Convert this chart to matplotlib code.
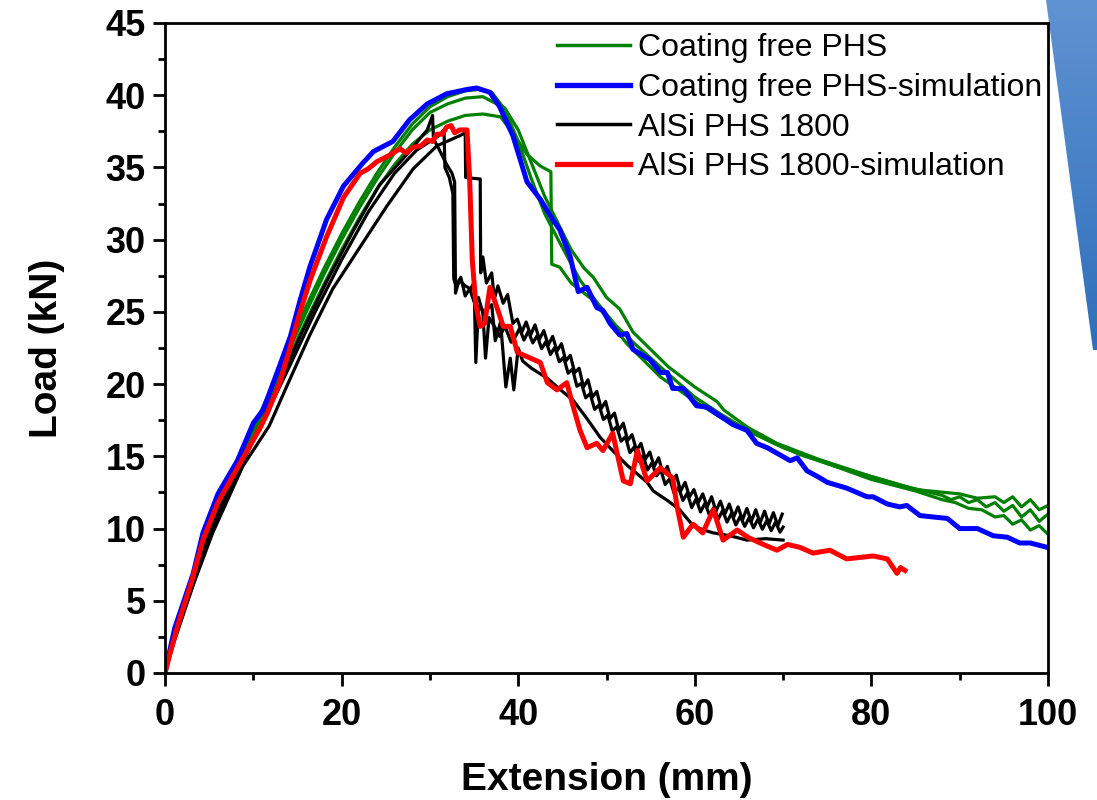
import matplotlib
matplotlib.use("Agg")
import matplotlib.pyplot as plt
import numpy as np
from matplotlib.patches import Polygon
from matplotlib.lines import Line2D
from matplotlib.ticker import MultipleLocator
from matplotlib.colors import LinearSegmentedColormap

plt.rcParams['font.family'] = ['Liberation Sans', 'DejaVu Sans']

# ---------------- data ----------------
# Coating free PHS - simulation (blue)
blue_x = [0, 0.2, 1.1, 3.2, 4.3, 6.0, 8.2, 10.0, 11.1, 12.7, 14.2, 15.3, 16.4, 18.3, 20.2, 22.4,
          23.6, 25.8, 27.7, 29.7, 31.9, 34.2, 35.3, 36.8, 37.9, 39.4, 41.0, 42.5, 43.9, 44.7, 45.9,
          46.8, 47.8, 48.9, 49.6, 50.4, 51.5, 52.3, 53.0, 54.9, 56.1, 56.9, 57.5, 58.7, 60.2, 61.4,
          64.3, 65.9, 67.0, 68.2, 70.8, 71.6, 72.7, 74.2, 75.0, 77.2, 79.5, 80.2, 81.8, 83.2, 84.0,
          85.5, 87.0, 88.6, 90.0, 92.0, 93.8, 95.4, 96.8, 98.0, 99.9]
blue_y = [0, 0.6, 3.1, 6.9, 9.7, 12.4, 14.7, 17.3, 18.2, 20.8, 23.3, 25.8, 28.1, 31.4, 33.7, 35.3,
          36.1, 36.8, 38.3, 39.4, 40.1, 40.4, 40.5, 40.2, 39.2, 37.2, 34.0, 32.8, 31.4, 30.7, 28.8,
          26.4, 26.7, 25.3, 25.1, 24.2, 23.4, 23.5, 22.4, 21.7, 20.8, 20.8, 19.7, 19.7, 18.5, 18.4,
          17.2, 16.8, 15.9, 15.6, 14.7, 14.9, 14.0, 13.5, 13.2, 12.8, 12.2, 12.2, 11.7, 11.5, 11.6,
          10.9, 10.8, 10.7, 10.0, 10.0, 9.5, 9.4, 9.0, 9.0, 8.7]

# Coating free PHS - three tests (green)
greenA_x = [0, 1, 3, 5, 8, 10, 12, 14, 16, 18, 20, 22, 24, 26, 28, 30, 32, 34, 35.5, 37, 38.5, 40,
            41.5, 43, 44.7, 47, 49, 51, 53, 55, 57, 60, 63, 66, 69, 72, 76, 80, 84, 88, 89, 90, 91,
            92, 93, 94, 95, 96, 97, 98, 99, 100]
greenA_y = [0, 2.8, 6.6, 9.9, 14.3, 17.0, 19.6, 22.6, 25.4, 28.0, 30.4, 32.6, 34.6, 36.4, 38.0, 39.2,
            39.9, 40.3, 40.4, 40.2, 39.0, 36.8, 34.2, 31.8, 29.8, 27.2, 25.6, 24.1, 22.9, 21.8, 20.7,
            19.1, 17.9, 16.8, 15.9, 15.1, 14.3, 13.6, 12.9, 12.3, 12.0, 12.2, 11.8, 12.0, 11.5, 11.8,
            11.2, 11.6, 10.8, 11.3, 10.5, 11.0]
greenB_x = [0, 1, 3, 5, 8, 10, 12, 14, 16, 18, 20, 22, 24, 26, 28, 30, 32, 34, 36, 38.5, 40, 41.5,
            43, 44.7, 46, 47.5, 48.5, 50, 51.5, 53, 55, 57, 60, 62.5, 63.3, 66, 69.3, 74, 80, 85, 90,
            92, 94, 95, 96, 97, 98, 99, 100]
greenB_y = [0, 2.6, 6.3, 9.6, 14.0, 16.8, 19.4, 22.3, 25.0, 27.6, 30.0, 32.2, 34.2, 36.0, 37.6, 38.8,
            39.4, 39.8, 39.9, 39.1, 37.6, 35.3, 33.0, 30.9, 29.3, 28.0, 27.4, 26.0, 25.2, 23.6, 22.4,
            21.2, 19.8, 18.8, 18.2, 17.0, 15.9, 14.8, 13.6, 12.7, 12.4, 12.1, 12.2, 11.8, 12.2, 11.5,
            12.0, 11.3, 11.6]
greenC_x = [0, 1, 3, 5, 8, 10, 12, 14, 16, 18, 20, 22, 24, 26, 28, 30, 32, 34, 36, 38, 39.5, 41,
            42.5, 43.7, 43.8, 44.7, 46, 48.5, 52.3, 56.1, 59.8, 62.9, 65.9, 70, 75, 80, 85, 88, 89.5,
            91, 92.5, 94, 95, 96, 97, 98, 99, 100]
greenC_y = [0, 2.5, 6.1, 9.3, 13.6, 16.4, 19.0, 21.8, 24.4, 26.9, 29.3, 31.5, 33.5, 35.2, 36.6, 37.6,
            38.2, 38.6, 38.7, 38.5, 37.3, 35.9, 35.1, 34.7, 28.3, 28.1, 27.0, 25.8, 22.8, 20.5, 18.9,
            17.7, 16.8, 15.6, 14.5, 13.4, 12.6, 12.0, 11.8, 11.4, 11.3, 10.8, 10.9, 10.3, 10.6, 9.9,
            10.2, 9.6]

# AlSi PHS 1800 - three tests (black)
black1_x = [0, 1, 2.5, 4.8, 7, 9, 10.8, 13, 15.6, 18.3, 21.3, 24.3, 27.4, 29.7, 30.3, 30.4, 31.0,
            31.9, 32.5, 32.8, 32.9, 33.3, 34.0, 34.6, 35.0, 35.2, 35.5, 36.2, 37.0, 37.4, 38.0, 38.6,
            39.1, 39.5, 40.0, 40.5, 41.5, 43.3, 45.0, 46.2, 47.8, 49.3, 50.7, 52.3, 54.6, 55.3, 57.0,
            58.3, 59.8, 61.0, 62.1, 64.0, 65.9, 68.0, 70.0]
black1_y = [0, 2.4, 5.3, 9.4, 12.6, 15.0, 17.0, 20.2, 23.7, 27.1, 30.6, 33.8, 35.9, 37.6, 38.6, 37.0,
            36.3, 35.2, 34.6, 34.0, 26.3, 27.2, 26.8, 26.6, 27.0, 21.5, 25.4, 25.0, 25.5, 23.0, 24.3,
            19.8, 21.8, 19.6, 22.5, 21.6, 21.1, 20.4, 19.5, 18.9, 17.6, 16.3, 15.4, 14.4, 13.2, 12.6,
            11.9, 11.3, 10.2, 9.9, 9.7, 9.5, 9.2, 9.3, 9.2]
black2_x = [0, 1, 3.2, 5.4, 8.8, 11.8, 13.9, 16.4, 19.0, 22.1, 25.1, 28.1, 30.8, 33.4, 34.0, 34.05,
            35.7, 35.75, 36.0, 36.4, 37.0, 37.3, 37.7, 38.3, 38.8, 39.4,
            39.9, 40.4, 40.9, 41.4, 41.9, 42.4, 42.9, 43.4, 43.9, 44.4, 44.9, 45.4, 45.9, 46.4, 46.9,
            47.4, 47.9, 48.4, 48.9, 49.4, 49.9, 50.4, 50.9, 51.4, 51.9, 52.4, 52.9, 53.4, 53.9, 54.4,
            54.9, 55.4, 55.9, 56.4, 56.9, 57.4, 57.9, 58.4, 58.9, 59.4, 59.9, 60.4, 60.9, 61.4, 61.9,
            62.4, 62.9, 63.4, 63.9, 64.4, 64.9, 65.4, 65.9, 66.4, 66.9, 67.4, 67.9, 68.4, 68.9, 69.4,
            69.9]
black2_y = [0, 2.1, 6.1, 9.7, 14.3, 17.1, 20.0, 23.4, 26.6, 29.5, 32.3, 34.9, 36.5, 37.2, 37.4, 34.3,
            34.2, 27.7, 28.8, 27.0, 27.7, 25.9, 26.8, 25.6, 26.2, 24.2,
            24.5, 23.6, 24.3, 23.4, 24.1, 23.1, 23.7, 22.7, 23.3, 22.3, 22.8, 21.6, 22.0, 20.8, 21.1,
            19.8, 20.3, 19.1, 19.5, 18.3, 18.8, 17.6, 18.0, 16.8, 17.3, 16.1, 16.5, 15.4, 15.9, 14.8,
            15.3, 14.3, 14.9, 13.8, 14.3, 13.2, 13.7, 12.6, 13.2, 12.2, 12.7, 11.8, 12.4, 11.5, 12.2,
            11.2, 11.9, 11.0, 11.7, 10.8, 11.5, 10.6, 11.4, 10.5, 11.3, 10.4, 11.2, 10.3, 11.1, 10.2,
            11.0]
black3_x = [0, 1, 3, 5, 8, 11, 14, 17, 20, 23, 26, 28.5, 31.0, 31.6, 31.7, 32.2, 32.6, 32.7, 33.0,
            33.5, 34.0, 34.5, 35.0, 35.5, 36.0, 36.3, 36.7, 37.3, 37.9, 38.5, 39.2,
            39.65, 40.15, 40.65, 41.15, 41.65, 42.15, 42.65, 43.15, 43.65, 44.15, 44.65, 45.15, 45.65,
            46.15, 46.65, 47.15, 47.65, 48.15, 48.65, 49.15, 49.65, 50.15, 50.65, 51.15, 51.65, 52.15,
            52.65, 53.15, 53.65, 54.15, 54.65, 55.15, 55.65, 56.15, 56.65, 57.15, 57.65, 58.15, 58.65,
            59.15, 59.65, 60.15, 60.65, 61.15, 61.65, 62.15, 62.65, 63.15, 63.65, 64.15, 64.65, 65.15,
            65.65, 66.15, 66.65, 67.15, 67.65, 68.15, 68.65, 69.15, 69.65, 70.0]
black3_y = [0, 2.3, 5.8, 9.3, 13.6, 17.3, 21.1, 25.0, 28.6, 31.9, 34.6, 36.2, 37.2, 37.6, 35.0, 34.3,
            33.2, 27.3, 26.7, 27.4, 26.1, 26.6, 25.7, 26.0, 24.9, 21.8, 24.6, 24.0, 23.3, 24.0, 22.9,
            23.25, 23.85, 23.05, 23.65, 22.85, 23.35, 22.45, 22.95, 22.05, 22.55, 21.55, 21.85, 20.75,
            21.05, 19.85, 20.05, 19.05, 19.35, 18.25, 18.55, 17.55, 17.85, 16.75, 17.05, 16.05, 16.35,
            15.25, 15.65, 14.65, 15.05, 14.05, 14.55, 13.65, 14.05, 13.05, 13.45, 12.45, 12.85, 11.95,
            12.45, 11.45, 12.05, 11.15, 11.75, 10.95, 11.45, 10.65, 11.25, 10.45, 11.05, 10.25, 10.85,
            10.15, 10.75, 10.05, 10.65, 9.95, 10.55, 9.85, 10.45, 9.75, 10.1]

# AlSi PHS 1800 - simulation (red)
red_x = [0, 0.5, 1.5, 3.0, 4.3, 6.0, 8.2, 10.8, 11.6, 13.0, 14.2, 15.3, 16.5, 18.3, 20.2, 21.2, 22.1,
         23.0, 24.0, 25.3, 26.6, 27.3, 28.1, 29.0, 29.7, 30.3, 30.8, 31.4, 31.9, 32.4, 32.8, 33.4,
         34.2, 34.5, 34.8, 35.2, 35.7, 36.2, 36.8, 37.6, 38.3, 39.1, 39.9, 41.0, 42.5, 43.3, 44.4,
         45.5, 46.2, 47.0, 47.8, 48.9, 49.6, 50.7, 51.9, 52.7, 53.5, 54.6, 56.1, 57.5, 58.0, 58.7,
         59.8, 60.9, 62.1, 63.2, 64.8, 66.0, 67.4, 69.3, 70.5, 71.9, 73.4, 75.3, 77.2, 78.7, 80.2,
         81.8, 82.9, 83.3, 83.8]
red_y = [0, 1.2, 3.4, 6.3, 9.2, 11.8, 14.2, 17.0, 18.0, 20.1, 22.6, 25.0, 27.3, 30.2, 32.9, 33.8,
         34.6, 34.9, 35.4, 35.8, 36.3, 36.0, 36.4, 36.5, 36.9, 36.8, 37.3, 37.3, 37.8, 37.9, 37.4,
         37.6, 37.6, 34.2, 28.6, 25.5, 24.0, 24.2, 26.7, 25.3, 24.0, 24.0, 22.2, 21.9, 21.5, 20.1,
         19.6, 20.1, 18.5, 16.8, 15.6, 15.9, 15.4, 16.6, 13.3, 13.1, 15.4, 13.3, 14.2, 13.5, 11.5,
         9.4, 10.3, 9.7, 11.3, 9.2, 9.9, 9.4, 9.0, 8.5, 8.9, 8.7, 8.3, 8.5, 7.9, 8.0, 8.1, 7.9, 6.9,
         7.3, 7.1]

labels = ["Coating free PHS", "Coating free PHS-simulation", "AlSi PHS 1800", "AlSi PHS 1800-simulation"]
x_ticks = [0, 20, 40, 60, 80, 100]
y_ticks = [0, 5, 10, 15, 20, 25, 30, 35, 40, 45]

# ---------------- figure ----------------
W, H = 1097, 800
fig = plt.figure(figsize=(W / 100, H / 100), dpi=100)

# decorative blue shape at the top-right of the slide (vertical gradient)
bg = fig.add_axes([0, 0, 1, 1], zorder=-5)
bg.set_xlim(0, W)
bg.set_ylim(H, 0)
bg.axis('off')
grad = np.linspace(0, 1, 256).reshape(-1, 1)
cmap = LinearSegmentedColormap.from_list('slide', ['#5f93d2', '#2f6fbb'])
im = bg.imshow(grad, cmap=cmap, extent=[1040, W, 350, 0], aspect='auto')
shape = Polygon([(1046, 0), (W, 0), (W, 350), (1093, 350)], closed=True, facecolor='none',
                edgecolor='none', transform=bg.transData)
bg.add_patch(shape)
im.set_clip_path(shape)

ax = fig.add_axes([165 / W, 1 - 673 / H, (1048 - 165) / W, (673 - 23) / H])
ax.set_facecolor('none')

green = '#008000'
lw_thin, lw_thick = 2.3, 3.6
ax.plot(greenA_x, greenA_y, color=green, lw=lw_thin)
ax.plot(greenB_x, greenB_y, color=green, lw=lw_thin)
ax.plot(greenC_x, greenC_y, color=green, lw=lw_thin)
ax.plot(black1_x, black1_y, color='black', lw=lw_thin)
ax.plot(black2_x, black2_y, color='black', lw=lw_thin)
ax.plot(black3_x, black3_y, color='black', lw=lw_thin)
ax.plot(blue_x, blue_y, color='#0000ff', lw=lw_thick)
ax.plot(red_x, red_y, color='#ff0000', lw=lw_thick)

handles = [Line2D([], [], color=green, lw=2.5), Line2D([], [], color='#0000ff', lw=3.8),
           Line2D([], [], color='black', lw=2.5), Line2D([], [], color='#ff0000', lw=3.8)]
ax.legend(handles, labels, loc='upper left',
          bbox_to_anchor=((557 - 165) / 883, 0.984), frameon=False, fontsize=23,
          handlelength=2.3, handletextpad=0.25, labelspacing=0.30, borderpad=0, borderaxespad=0)

ax.set_xlim(0, 100)
ax.set_ylim(0, 45)
ax.set_xticks(x_ticks)
ax.set_yticks(y_ticks)
ax.xaxis.set_minor_locator(MultipleLocator(10))
ax.yaxis.set_minor_locator(MultipleLocator(2.5))
ax.tick_params(which='major', direction='out', length=9, width=2, labelsize=26, pad=5)
ax.tick_params(axis='x', which='major', pad=9)
ax.tick_params(which='minor', direction='out', length=5, width=2)
for lab in ax.get_xticklabels() + ax.get_yticklabels():
    lab.set_fontweight('bold')
for sp in ax.spines.values():
    sp.set_linewidth(2)

ax.set_xlabel("Extension (mm)", fontsize=28, fontweight='bold', labelpad=21)
ax.set_ylabel("Load (kN)", fontsize=28, fontweight='bold', labelpad=29)

fig.savefig("out.png", dpi=100, facecolor='white')
